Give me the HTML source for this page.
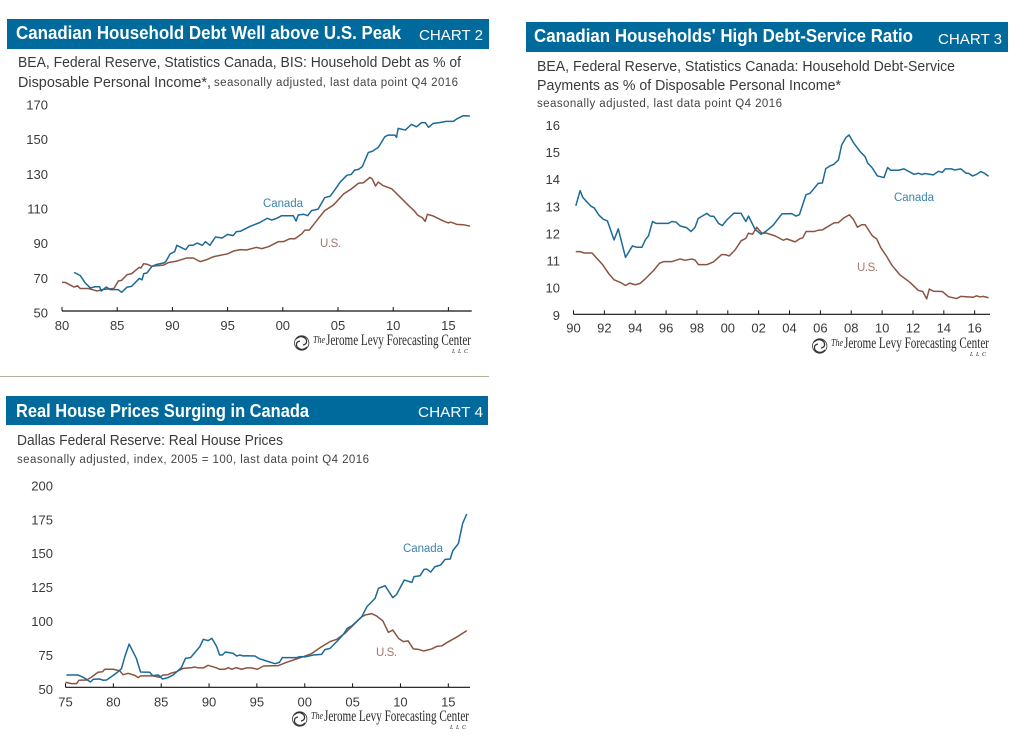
<!DOCTYPE html>
<html lang="en">
<head>
<meta charset="utf-8">
<title>Canadian Household Debt Charts</title>
<style>
html,body{margin:0;padding:0;background:#fff;}
svg{display:block;}
text{font-family:"Liberation Sans",sans-serif;}
.title{font-weight:bold;font-size:18px;fill:#fff;}
.tag{font-size:15px;fill:#fff;}
.sub{font-size:15px;fill:#3a3a3a;}
.small{font-size:11.5px;fill:#444;}
.tick{font-size:13px;fill:#3a3a3a;}
.can{font-size:11.5px;fill:#3d84ad;}
.us{font-size:11.5px;fill:#a5796a;}
.logo{font-family:"Liberation Serif",serif;font-size:15.5px;fill:#2a2a2a;}
.logoi{font-family:"Liberation Serif",serif;font-style:italic;font-size:11px;fill:#2a2a2a;}
.llc{font-family:"Liberation Serif",serif;font-style:italic;font-size:6px;fill:#2a2a2a;}
</style>
</head>
<body>
<svg id="root" width="1025" height="751" viewBox="0 0 1025 751" xmlns="http://www.w3.org/2000/svg">
  <defs>
    <g id="levy-logo">
      <circle cx="301.7" cy="343" r="7.2" fill="none" stroke="#333" stroke-width="0.8"/>
      <path d="M296 339 Q301 334 306 339 Q308 344 303 345 M307 347 Q302 352 297 347 Q295 342 300 341" fill="none" stroke="#333" stroke-width="1.3"/>
      <text class="logoi" x="313" y="343" textLength="12" lengthAdjust="spacingAndGlyphs">The</text>
      <text class="logo" x="326" y="345" textLength="145" lengthAdjust="spacingAndGlyphs">Jerome Levy Forecasting Center</text>
      <text class="llc" x="452" y="353" textLength="16">L L C</text>
    </g>
  </defs>

  <g>
    <rect x="7" y="19" width="482" height="30" fill="#006a9d"/>
    <text class="title" x="16" y="39" textLength="385" lengthAdjust="spacingAndGlyphs">Canadian Household Debt Well above U.S. Peak</text>
    <text class="tag" x="419" y="40" textLength="64" lengthAdjust="spacingAndGlyphs">CHART 2</text>
    <text class="sub" x="18" y="67" textLength="443" lengthAdjust="spacingAndGlyphs">BEA, Federal Reserve, Statistics Canada, BIS: Household Debt as % of</text>
    <text class="sub" x="18" y="87" textLength="193" lengthAdjust="spacingAndGlyphs">Disposable Personal Income*,</text>
    <text class="small" x="214" y="86" textLength="244" lengthAdjust="spacing">seasonally adjusted, last data point Q4 2016</text>
    <g id="chart2"></g>
    <text class="can" x="263" y="207" textLength="40">Canada</text>
    <text class="us" x="320" y="247" textLength="21">U.S.</text>
    <use href="#levy-logo"/>
  </g>

  <rect x="0" y="376" width="489" height="1" fill="#b5b09a"/>

  <g>
    <rect x="526" y="22" width="482" height="30" fill="#006a9d"/>
    <text class="title" x="534" y="42" textLength="379" lengthAdjust="spacingAndGlyphs">Canadian Households' High Debt-Service Ratio</text>
    <text class="tag" x="938" y="44" textLength="64" lengthAdjust="spacingAndGlyphs">CHART 3</text>
    <text class="sub" x="537" y="71" textLength="418" lengthAdjust="spacingAndGlyphs">BEA, Federal Reserve, Statistics Canada: Household Debt-Service</text>
    <text class="sub" x="537" y="90" textLength="304" lengthAdjust="spacingAndGlyphs">Payments as % of Disposable Personal Income*</text>
    <text class="small" x="537" y="107" textLength="245" lengthAdjust="spacing">seasonally adjusted, last data point Q4 2016</text>
    <g id="chart3"></g>
    <text class="can" x="894" y="201" textLength="40">Canada</text>
    <text class="us" x="857" y="271" textLength="21">U.S.</text>
    <use href="#levy-logo" transform="translate(518,3)"/>
  </g>

  <g>
    <rect x="6" y="396" width="482" height="29" fill="#006a9d"/>
    <text class="title" x="16" y="417" textLength="293" lengthAdjust="spacingAndGlyphs">Real House Prices Surging in Canada</text>
    <text class="tag" x="418" y="417" textLength="65" lengthAdjust="spacingAndGlyphs">CHART 4</text>
    <text class="sub" x="17" y="445" textLength="266" lengthAdjust="spacingAndGlyphs">Dallas Federal Reserve: Real House Prices</text>
    <text class="small" x="17" y="463" textLength="352" lengthAdjust="spacing">seasonally adjusted, index, 2005 = 100, last data point Q4 2016</text>
    <g id="chart4"></g>
    <text class="can" x="403" y="552" textLength="40">Canada</text>
    <text class="us" x="376" y="656" textLength="21">U.S.</text>
    <use href="#levy-logo" transform="translate(-2,376)"/>
  </g>
</svg>

<script>
// ---------- Chart 2: household debt, % of disposable income ----------
const debtCanadaYears = [1981.1,1981.66,1982.1,1982.57,1983,1983.4,1983.56,1984,1984.4,1985.1,1985.4,1985.9,1986.3,1987,1987.25,1987.4,1987.7,1988.15,1988.6,1989.2,1989.4,1989.8,1990.2,1990.4,1990.9,1991.2,1991.5,1991.9,1992.25,1992.7,1993,1993.4,1993.9,1994.5,1995,1995.5,1995.8,1996.15,1997,1997.9,1998.6,1999,1999.45,1999.9,2000.95,2001.2,2001.4,2001.9,2002.25,2002.6,2003.2,2003.8,2004.3,2004.7,2005.2,2005.8,2006.2,2006.5,2006.85,2007.2,2007.75,2008.1,2008.65,2009.25,2009.55,2010.15,2010.3,2010.45,2011.1,2011.65,2012.1,2012.57,2012.9,2013.2,2013.63,2014.2,2014.8,2015.45,2015.75,2016.35,2016.95];
const debtCanadaValues = [72.3,70.4,66.2,63.3,64,64,61.5,63.8,62.3,62.3,60.8,63.8,64.2,68.8,68,71.5,72,75.8,76.9,77.7,78.5,83,84.2,87.9,86.3,85.4,87.9,88,89.2,87.9,90,87.9,92.7,92.1,94.2,93.5,95.8,96,98.7,101,103.5,102.5,103.5,105,105,101.9,105.4,105.8,105,107.9,108.8,115.4,116.3,119.8,124.4,128.3,128.8,131.3,131.7,133.3,141.5,142.1,144.4,150.6,151.5,151.5,150.2,155.4,154.4,157.7,156.3,158.7,158.7,156,158.3,158.7,159.4,159.4,160.8,162.7,162.5];
const debtUsYears = [1980,1980.3,1981.1,1981.4,1981.65,1982.4,1983.2,1983.6,1984.7,1985.1,1985.4,1985.9,1986.3,1987,1987.15,1987.4,1987.7,1988.15,1989.2,1989.66,1990.4,1991.3,1991.9,1992.5,1993.1,1993.7,1995,1995.55,1996.15,1996.7,1997.6,1998.1,1998.7,1999.6,2000.05,2000.65,2001.1,2001.7,2002,2002.4,2003.35,2003.8,2004.6,2005.5,2006.2,2006.85,2007.3,2007.9,2008.1,2008.4,2008.65,2009.1,2009.85,2010.9,2011.5,2011.9,2012.2,2012.65,2012.9,2013.1,2013.63,2014.55,2015,2015.2,2015.75,2016.35,2016.95];
const debtUsValues = [66.5,66.5,63.8,64.6,63,63,61.5,62.3,63,67.3,67.7,71,71.5,75.2,74.8,77.3,77,75.8,76.5,78,78.8,80.6,80.6,78.5,79.6,81.3,83,84.6,85.4,85.2,86.7,86,87.1,90,90,91.7,91.7,94.4,96.7,96.7,104.4,107.9,111.2,117.5,120.4,123.7,124,127.1,126.2,122.1,124.4,122.3,120.6,114,110.2,107.9,105.4,103.8,101.7,105.8,104.8,101.9,100.8,101.3,100,99.8,99];
const debtYTicks = [50,70,90,110,130,150,170];
const debtXTicks = [1980,1985,1990,1995,2000,2005,2010,2015];
const debtXLabels = ['80','85','90','95','00','05','10','15'];

// ---------- Chart 3: debt-service ratio ----------
const serviceCanadaYears = [1990.15,1990.43,1990.6,1990.86,1991.12,1991.34,1991.66,1991.94,1992.2,1992.63,1992.9,1993.37,1993.82,1994.1,1994.43,1994.67,1994.86,1995.12,1995.36,1996.16,1996.37,1996.65,1996.9,1997.34,1997.62,1997.88,1998.08,1998.64,1998.86,1999.1,1999.4,1999.65,1999.94,2000.4,2000.86,2001.17,2001.34,2001.77,2002.16,2002.52,2002.95,2003.5,2004.14,2004.42,2004.64,2005.07,2005.33,2005.87,2006.13,2006.35,2006.63,2006.88,2007.17,2007.38,2007.66,2007.86,2008.14,2008.57,2008.9,2009.07,2009.33,2009.7,2010.12,2010.36,2010.56,2011.05,2011.42,2012.07,2012.35,2012.57,2012.78,2013.32,2013.65,2013.9,2014.1,2014.5,2014.7,2015.1,2015.44,2015.6,2015.87,2016.13,2016.39,2016.6,2016.9];
const serviceCanadaValues = [13,13.56,13.31,13.15,12.99,12.92,12.65,12.5,12.44,11.74,12.15,11.1,11.52,11.47,11.47,11.76,11.89,12.42,12.35,12.35,12.42,12.4,12.26,12.19,12.05,12.21,12.53,12.72,12.62,12.61,12.35,12.27,12.48,12.73,12.72,12.42,12.62,12.13,11.95,12.08,12.29,12.7,12.71,12.62,12.67,13.41,13.46,13.83,13.84,14.37,14.47,14.53,14.69,15.24,15.52,15.61,15.33,15,14.81,14.57,14.42,14.1,14.04,14.41,14.31,14.31,14.36,14.16,14.2,14.15,14.19,14.14,14.27,14.23,14.36,14.36,14.32,14.36,14.2,14.2,14.1,14.16,14.26,14.21,14.09];
const serviceUsYears = [1990.15,1990.43,1990.7,1991.2,1991.9,1992.27,1992.63,1993.02,1993.37,1993.63,1994,1994.32,1994.64,1995.18,1995.57,1995.83,1996.37,1996.9,1997.24,1997.67,1997.88,1998.1,1998.64,1999.07,1999.6,1999.83,2000.09,2000.47,2000.86,2001.17,2001.34,2001.6,2001.88,2002.2,2002.52,2003.06,2003.6,2003.82,2004.36,2004.68,2004.85,2005.07,2005.59,2005.87,2006.13,2006.88,2007.17,2007.49,2007.88,2008.14,2008.4,2008.68,2008.9,2009.37,2009.65,2009.91,2010.3,2010.62,2011.16,2011.8,2012.35,2012.63,2012.89,2013.06,2013.32,2013.9,2014.3,2014.83,2015.1,2015.91,2016.13,2016.34,2016.56,2016.9];
const serviceUsValues = [11.31,11.31,11.26,11.26,10.82,10.51,10.27,10.18,10.06,10.15,10.09,10.14,10.3,10.61,10.88,10.94,10.94,11.04,10.99,11.04,11,10.83,10.83,10.93,11.2,11.2,11.15,11.37,11.71,11.8,11.99,11.95,12.21,11.99,11.99,11.89,11.73,11.78,11.67,11.79,11.81,12.05,12.05,12.1,12.11,12.37,12.38,12.54,12.67,12.5,12.21,12.3,12.3,11.89,11.78,11.46,11.13,10.82,10.45,10.18,9.88,9.84,9.57,9.93,9.85,9.84,9.65,9.58,9.66,9.63,9.68,9.64,9.66,9.61];
const serviceYTicks = [9,10,11,12,13,14,15,16];
const serviceXTicks = [1990,1992,1994,1996,1998,2000,2002,2004,2006,2008,2010,2012,2014,2016];
const serviceXLabels = ['90','92','94','96','98','00','02','04','06','08','10','12','14','16'];

// ---------- Chart 4: real house prices ----------
const houseCanadaYears = [1975.1,1976.3,1976.85,1977.6,1977.9,1978.6,1978.94,1979.3,1979.8,1980.5,1980.85,1981.2,1981.65,1982.4,1982.84,1983.8,1984.1,1984.7,1985.14,1985.7,1986.25,1987.1,1987.54,1988.07,1989.04,1989.4,1989.9,1990.3,1990.8,1991.1,1991.4,1991.7,1992.5,1992.9,1993.2,1993.6,1993.9,1994.8,1995.15,1996,1996.9,1997.35,1997.66,1999.16,1999.5,2000.03,2000.9,2001.77,2002.1,2002.64,2003.34,2004.04,2004.45,2004.9,2005.95,2006.5,2007.35,2007.7,2008.4,2009.2,2009.6,2010.4,2011.2,2011.42,2012.05,2012.47,2012.75,2013.16,2013.6,2014.2,2014.66,2015.2,2015.47,2016.06,2016.5,2016.93];
const houseCanadaValues = [59.1,59.1,57.4,53.9,55.9,56.1,55.2,55.4,57.9,61.5,63.8,72.6,81.9,71.4,61.3,61.1,58.6,59.1,56.1,57.1,59.1,64.5,71.4,71.9,80,85.4,84.4,86.1,80,73.8,73.8,76,75.1,73.1,73.8,73.1,73.3,73.1,71.4,69.4,67.4,68.4,71.9,71.9,72.6,72.4,73.8,74.3,77.8,78.7,83.7,89.1,93.5,95.2,102,109.5,115.6,123,124.9,116.1,118.5,129.1,127.4,131.6,132.3,137,137.2,135,138.9,140.2,144.3,144.6,150.7,156.1,170.9,177.8];
const houseUsYears = [1975,1975.6,1976.15,1976.4,1977.2,1977.7,1978.4,1978.87,1979.1,1980,1980.7,1981,1981.55,1982.25,1982.6,1982.84,1984.16,1984.8,1985.2,1985.7,1986.1,1986.6,1987.3,1988.2,1988.5,1988.87,1989.4,1989.9,1990.8,1991.1,1991.65,1992,1992.4,1992.8,1993.4,1993.9,1994.44,1995.05,1995.7,1997.25,1998.1,1999,1999.85,2000.7,2001.6,2002.64,2003.34,2004.2,2004.9,2005.95,2006.3,2007,2007.5,2008.15,2008.74,2009.2,2009.8,2010.3,2010.8,2011.35,2011.87,2012.4,2012.75,2013.27,2013.8,2014.3,2014.84,2016.06,2016.93];
const houseUsValues = [53.7,52.7,52.7,55.2,55.4,57.4,61.1,61.5,63.3,63.3,62,59.3,60.3,58.8,57.1,58.4,58.4,57.4,59.1,59.3,60.6,61.5,64,64.5,65,64.3,64.3,66.2,64.3,63.3,63.3,64.5,63.3,64.5,63.3,64.3,64.3,63.3,65.7,66,68.4,70.6,72.6,74.8,79.2,83.7,85.4,89.8,94.7,102,103.3,104.3,102.6,99.1,90.5,92.2,86.1,83.7,84.2,78.3,78,76.8,77.3,78.3,80.2,80.5,82.9,87.8,91.8];
const houseYTicks = [50,75,100,125,150,175,200];
const houseXTicks = [1975,1980,1985,1990,1995,2000,2005,2010,2015];
const houseXLabels = ['75','80','85','90','95','00','05','10','15'];

const SVGNS = 'http://www.w3.org/2000/svg';
const COLOR_CANADA = '#1c6a96';
const COLOR_US = '#8b5441';

function makeScale(d0, r0, pxPerUnit) {
  return function (v) { return r0 + (v - d0) * pxPerUnit; };
}

function drawChart(opts) {
  const g = document.getElementById(opts.id);
  const x = opts.x;
  const y = opts.y;
  const base = y(opts.yTicks[0]);

  opts.yTicks.forEach(function (t) {
    const el = document.createElementNS(SVGNS, 'text');
    el.setAttribute('class', 'tick');
    el.setAttribute('x', opts.yLabelX);
    el.setAttribute('y', y(t) + opts.yLabelDy);
    el.setAttribute('text-anchor', 'end');
    
    
    el.textContent = String(t);
    g.appendChild(el);
  });

  const axis = document.createElementNS(SVGNS, 'line');
  axis.setAttribute('x1', x(opts.xTicks[0]));
  axis.setAttribute('x2', opts.xEnd);
  axis.setAttribute('y1', base);
  axis.setAttribute('y2', base);
  axis.setAttribute('stroke', '#111');
  axis.setAttribute('stroke-width', '1.2');
  
  
  g.appendChild(axis);

  opts.xTicks.forEach(function (t, i) {
    const tick = document.createElementNS(SVGNS, 'line');
    tick.setAttribute('x1', x(t));
    tick.setAttribute('x2', x(t));
    tick.setAttribute('y1', base - 4);
    tick.setAttribute('y2', base);
    tick.setAttribute('stroke', '#111');
    tick.setAttribute('stroke-width', '1');
    
    
    g.appendChild(tick);

    const label = document.createElementNS(SVGNS, 'text');
    label.setAttribute('class', 'tick');
    label.setAttribute('x', x(t));
    label.setAttribute('y', base + opts.xLabelDy);
    label.setAttribute('text-anchor', 'middle');
    
    
    label.textContent = opts.xLabels[i];
    g.appendChild(label);
  });

  function drawLine(years, values, color, name) {
    const d = years.map(function (yr, i) {
      return (i ? 'L' : 'M') + x(yr).toFixed(2) + ' ' + y(values[i]).toFixed(2);
    }).join(' ');
    const path = document.createElementNS(SVGNS, 'path');
    path.setAttribute('d', d);
    path.setAttribute('fill', 'none');
    path.setAttribute('stroke', color);
    path.setAttribute('stroke-width', '1.5');
    path.setAttribute('stroke-linejoin', 'round');
    
    
    g.appendChild(path);
  }
  drawLine(opts.usYears, opts.usValues, COLOR_US, 'us-line');
  drawLine(opts.canadaYears, opts.canadaValues, COLOR_CANADA, 'canada-line');
}

drawChart({
  id: 'chart2',
  x: makeScale(1980, 62, 11.04),
  y: makeScale(50, 311, -1.733),
  xEnd: 471.7, yLabelX: 48, yLabelDy: 6.5, xLabelDy: 19,
  yTicks: debtYTicks, xTicks: debtXTicks, xLabels: debtXLabels,
  canadaYears: debtCanadaYears, canadaValues: debtCanadaValues,
  usYears: debtUsYears, usValues: debtUsValues
});
drawChart({
  id: 'chart3',
  x: makeScale(1990, 573.5, 15.43),
  y: makeScale(9, 314.3, -27.13),
  xEnd: 990, yLabelX: 560, yLabelDy: 5.5, xLabelDy: 18,
  yTicks: serviceYTicks, xTicks: serviceXTicks, xLabels: serviceXLabels,
  canadaYears: serviceCanadaYears, canadaValues: serviceCanadaValues,
  usYears: serviceUsYears, usValues: serviceUsValues
});
drawChart({
  id: 'chart4',
  x: makeScale(1975, 65.5, 9.57),
  y: makeScale(50, 687.3, -1.356),
  xEnd: 470, yLabelX: 53, yLabelDy: 6.5, xLabelDy: 19,
  yTicks: houseYTicks, xTicks: houseXTicks, xLabels: houseXLabels,
  canadaYears: houseCanadaYears, canadaValues: houseCanadaValues,
  usYears: houseUsYears, usValues: houseUsValues
});
</script>
</body>
</html>
